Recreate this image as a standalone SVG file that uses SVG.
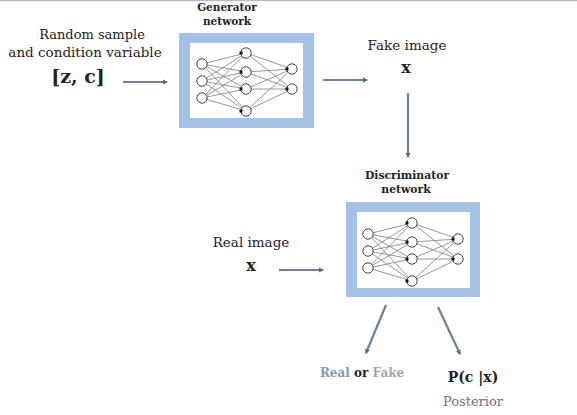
<svg xmlns="http://www.w3.org/2000/svg" width="577" height="415" viewBox="0 0 577 415">
<style>
.t{font-family:"DejaVu Serif","Liberation Serif",serif;fill:#222;text-anchor:middle}
.b{font-weight:bold}
.frame{fill:#a4c2e5}
.inner{fill:#fff}
.e{stroke:#8c8c8c;stroke-width:0.9;fill:none}
.n{fill:#fff;stroke:#444;stroke-width:1}
.d{fill:#111}
.arr{stroke:#6f8098;stroke-width:2.2;fill:none;marker-end:url(#ah)}
</style>
<defs>
<marker id="ah" markerWidth="6" markerHeight="6" refX="4" refY="3" orient="auto" markerUnits="userSpaceOnUse">
<path d="M0,0.5 L5,3 L0,5.5 Z" fill="#5a6a80"/>
</marker>
<g id="net">
<g class="e">
<path d="M0,0 L44,-11 M0,0 L44,8 M0,0 L44,25 M0,0 L44,47 M0,17 L44,-11 M0,17 L44,8 M0,17 L44,25 M0,17 L44,47 M0,34 L44,-11 M0,34 L44,8 M0,34 L44,25 M0,34 L44,47 M44,-11 L90,5 M44,-11 L90,25 M44,8 L90,5 M44,8 L90,25 M44,25 L90,5 M44,25 L90,25 M44,47 L90,5 M44,47 L90,25"/>
</g>
<circle class="n" cx="0" cy="0" r="5.2"/>
<circle class="n" cx="0" cy="17" r="5.2"/>
<circle class="n" cx="0" cy="34" r="5.2"/>
<circle class="n" cx="44" cy="-11" r="5.2"/>
<circle class="n" cx="44" cy="8" r="5.2"/>
<circle class="n" cx="44" cy="25" r="5.2"/>
<circle class="n" cx="44" cy="47" r="5.2"/>
<circle class="n" cx="90" cy="5" r="5.2"/>
<circle class="n" cx="90" cy="25" r="5.2"/>
<rect class="d" x="37.5" y="-12.5" width="3" height="3"/>
<rect class="d" x="37.5" y="6.5" width="3" height="3"/>
<rect class="d" x="37.5" y="23.5" width="3" height="3"/>
<rect class="d" x="37.5" y="45.5" width="3" height="3"/>
<rect class="d" x="83.5" y="3.5" width="3" height="3"/>
<rect class="d" x="83.5" y="23.5" width="3" height="3"/>
</g>
</defs>
<rect width="577" height="415" fill="#fff"/>
<line x1="0" y1="0.5" x2="577" y2="0.5" stroke="#bbb" stroke-width="1.5"/>

<g id="connectors">
<line class="arr" x1="123" y1="82" x2="167" y2="82"/>
<line class="arr" x1="323" y1="80" x2="367" y2="80"/>
<line class="arr" x1="408" y1="93" x2="408" y2="157"/>
<line class="arr" x1="279" y1="270" x2="323" y2="270"/>
<line class="arr" x1="386" y1="305" x2="366" y2="353"/>
<line class="arr" x1="438" y1="307" x2="460" y2="354"/>
</g>

<g id="input">
<text class="t" x="92" y="39" font-size="13">Random sample</text>
<text class="t" x="85" y="57" font-size="13.5">and condition variable</text>
<text class="t b" x="78" y="83" font-size="19">[z, c]</text>
</g>

<g id="generator">
<text class="t b" x="227" y="11" font-size="10.5">Generator</text>
<text class="t b" x="227" y="25" font-size="10.5">network</text>
<rect class="frame" x="179" y="33" width="135" height="95"/>
<rect class="inner" x="190" y="43" width="113" height="75"/>
<use href="#net" x="202" y="64"/>
</g>

<g id="fake">
<text class="t" x="407" y="50" font-size="13.5">Fake image</text>
<text class="t b" x="406" y="73" font-size="16">x</text>
</g>

<g id="discriminator">
<text class="t b" x="407" y="179" font-size="10.8">Discriminator</text>
<text class="t b" x="406" y="193" font-size="10.8">network</text>
<rect class="frame" x="346" y="202" width="134" height="95"/>
<rect class="inner" x="357" y="212" width="113" height="76"/>
<use href="#net" x="368" y="234"/>
</g>

<g id="real">
<text class="t" x="251" y="247" font-size="13.5">Real image</text>
<text class="t b" x="251" y="271" font-size="16">x</text>
</g>

<g id="realorfake">
<text class="t b" x="362" y="377" font-size="12"><tspan fill="#8399b8">Real</tspan> <tspan fill="#222">or</tspan> <tspan fill="#a6a6a6">Fake</tspan></text>
</g>

<g id="posterior">
<text class="t b" x="473" y="382" font-size="14">P(c |x)</text>
<text class="t" x="473" y="406" font-size="13" style="fill:#707070">Posterior</text>
</g>
</svg>
